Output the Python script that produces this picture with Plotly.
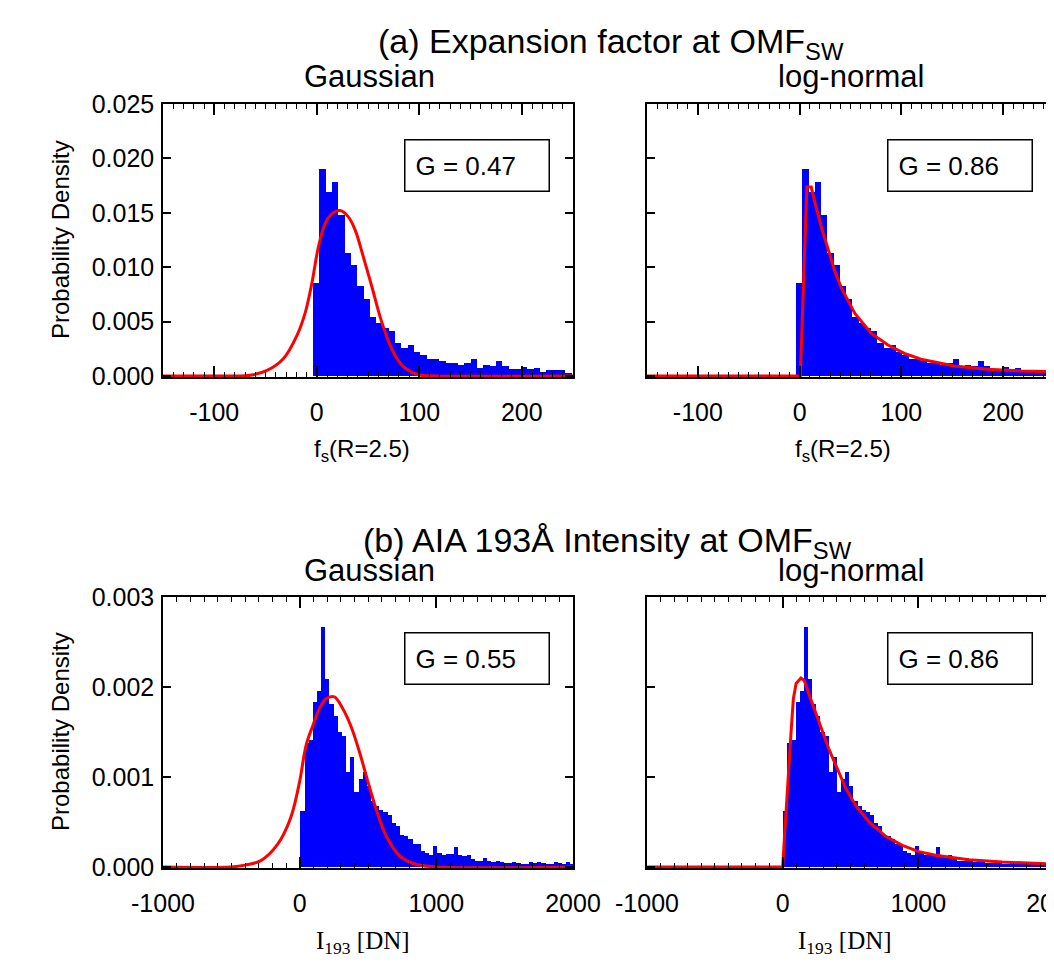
import numpy as np
import plotly.graph_objects as go

# ------------------------------------------------------------------ data
# (a) expansion factor f_s(R=2.5): histogram (probability density)
fs_bin_left = -3.5
fs_bin_width = 6.15
fs_density = [0.0085, 0.0190, 0.0169, 0.0178, 0.0148, 0.0113, 0.0102, 0.0083, 0.0071, 0.0054,
              0.0049, 0.0044, 0.0041, 0.0030, 0.0026, 0.0028, 0.0022, 0.0019, 0.0016, 0.0016,
              0.0014, 0.0012, 0.0012, 0.0010, 0.0012, 0.0016, 0.0007, 0.0010, 0.0009, 0.0014,
              0.0009, 0.0006, 0.0006, 0.0008, 0.0006, 0.0007, 0.0004, 0.0005, 0.0005, 0.0005,
              0.0003]

# fitted curves
fs_gauss_x = [-150, -90, -65, -48.5, -32.4, -19.4, -11.3, -4.8, 1.7, 8.2, 14.7, 22.9, 31, 37.5,
              45.6, 53.8, 61.9, 70, 78.2, 86.3, 99.3, 115, 250]
fs_gauss_y = [0, 0, 0.00006, 0.0005, 0.0016, 0.0037, 0.0058, 0.0085, 0.0119, 0.0140, 0.0149,
              0.0152, 0.0146, 0.0134, 0.0109, 0.0082, 0.0054, 0.0032, 0.0016, 0.0007, 0.0001, 0, 0]
fs_lognorm_x = [-150, 0.7, 7.1, 11.4, 15.3, 21.8, 28.3, 34.8, 41.3, 54.3, 70.5, 86.8, 103, 119.3,
                152, 184.4, 217, 250]
fs_lognorm_y = [0, 0, 0.01736, 0.01736, 0.01583, 0.01354, 0.01155, 0.00957, 0.00804, 0.00575,
                0.0039, 0.00284, 0.00208, 0.00153, 0.00092, 0.00061, 0.00046, 0.0004]

# (b) AIA 193 intensity: histogram (probability density)
i193_bin_left = 5.0
i193_bin_width = 30.4
i193_density = [0.00062, 0.00138, 0.00141, 0.00183, 0.00195, 0.00267, 0.00209, 0.00181, 0.00168, 0.00150,
                0.00145, 0.00106, 0.00122, 0.00083, 0.00098, 0.00106, 0.00090, 0.00073, 0.00068, 0.00063,
                0.00061, 0.00058, 0.00049, 0.00045, 0.00036, 0.00034, 0.00031, 0.00025, 0.00026, 0.00018,
                0.00016, 0.00013, 0.00023, 0.00015, 0.00013, 0.00014, 0.00014, 0.00022, 0.00013, 0.00012,
                0.00013, 0.00009, 0.00007, 0.00007, 0.00010, 0.00007, 0.000055, 0.00007, 0.000055, 0.00004,
                0.00004, 0.000055, 0.00004, 0.00003, 0.00003, 0.00005, 0.00004, 0.00006, 0.00004, 0.00003,
                0.00003, 0.00005, 0.00004, 0.00003, 0.00005, 0.00003]

i193_gauss_x = [-1000, -500, -400, -284, -162, -65, -1.5, 47, 96, 145, 193, 254, 315, 376, 437,
                497, 558, 619, 680, 741, 850, 1000, 2000]
i193_gauss_y = [0, 0, 0.00002, 0.00007, 0.00025, 0.00055, 0.00094, 0.00135, 0.00157, 0.00176,
                0.00187, 0.00189, 0.00176, 0.00156, 0.00128, 0.00096, 0.00065, 0.00039, 0.00022,
                0.00011, 0.00003, 0, 0]
i193_lognorm_x = [-1000, 0, 12.5, 37, 62, 79, 99, 135, 160, 196, 245, 294, 343, 392, 466, 539,
                  637, 760, 882, 1004, 1127, 1372, 1617, 2000]
i193_lognorm_y = [0, 0, 0.00031, 0.00094, 0.0015, 0.00187, 0.00204, 0.0021, 0.00207, 0.00191,
                  0.0017, 0.0015, 0.0013, 0.00113, 0.00087, 0.00068, 0.0005, 0.00034, 0.00024,
                  0.00017, 0.00013, 0.00008, 0.000055, 0.00003]

# goodness-of-fit values
g_fs_gauss, g_fs_lognorm = "0.47", "0.86"
g_i193_gauss, g_i193_lognorm = "0.55", "0.86"

# ticks
fs_xtickvals = [-100, 0, 100, 200]
fs_xticktext = ["-100", "0", "100", "200"]
i193_xtickvals = [-1000, 0, 1000, 2000]
i193_xticktext = ["-1000", "0", "1000", "2000"]
fs_ytickvals = [0, 0.005, 0.010, 0.015, 0.020, 0.025]
i193_ytickvals = [0, 0.001, 0.002, 0.003]

# ------------------------------------------------------------------ figure
# the page body has an 8 px margin, so the figure is sized to end at the window edge
OFF = 8
W, H = 1054 - OFF, 962 - OFF
SANS = "Liberation Sans, Arial, Helvetica, sans-serif"
SERIF = "Liberation Serif, Times New Roman, serif"
BLUE = "#0000ff"
RED = "#ff0000"


def px(x):
    return (x - OFF) / W


def py(y):
    return 1 - (y - OFF) / H


fs_centers = fs_bin_left + fs_bin_width * (np.arange(len(fs_density)) + 0.5)
i193_centers = i193_bin_left + i193_bin_width * (np.arange(len(i193_density)) + 0.5)

fig = go.Figure()

panels = [
    ("x", "y", fs_centers, fs_density, fs_bin_width, fs_gauss_x, fs_gauss_y, "spline"),
    ("x2", "y2", fs_centers, fs_density, fs_bin_width, fs_lognorm_x, fs_lognorm_y, "linear"),
    ("x3", "y3", i193_centers, i193_density, i193_bin_width, i193_gauss_x, i193_gauss_y, "spline"),
    ("x4", "y4", i193_centers, i193_density, i193_bin_width, i193_lognorm_x, i193_lognorm_y, "linear"),
]
for xa, ya, cx, dens, bw, lx, ly, shape in panels:
    fig.add_trace(go.Bar(x=cx, y=dens, width=bw, xaxis=xa, yaxis=ya,
                         marker=dict(color=BLUE, line=dict(width=0)), showlegend=False,
                         hoverinfo="skip"))
    fig.add_trace(go.Scatter(x=lx, y=ly, xaxis=xa, yaxis=ya, mode="lines",
                             line=dict(color=RED, width=3, shape=shape, smoothing=1.0),
                             showlegend=False, hoverinfo="skip", cliponaxis=True))

# invisible traces for right-side tick axes of right column
fig.add_trace(go.Scatter(x=[None], y=[None], xaxis="x2", yaxis="y5", showlegend=False))
fig.add_trace(go.Scatter(x=[None], y=[None], xaxis="x4", yaxis="y6", showlegend=False))

xdomL = [px(163), px(573)]
xdomR = [px(647), 1.0]
ydomT = [py(377), py(104)]
ydomB = [py(868), py(597)]

axis_common = dict(showline=True, linecolor="black", linewidth=1.5, showgrid=False,
                   zeroline=False, ticks="inside", tickcolor="black", automargin=False)


def xax(domain, anchor, rng, tv, tt, minor_dt):
    return dict(axis_common, domain=domain, anchor=anchor, range=rng, tickvals=tv, ticktext=tt,
                ticklen=11, tickwidth=1.5, mirror="ticks", ticklabeloverflow="allow",
                tickfont=dict(family=SANS, size=25, color="black"),
                ticklabelstandoff=12,
                minor=dict(dtick=minor_dt, tick0=0, ticklen=5, tickwidth=1, tickcolor="black",
                           ticks="inside", showgrid=False))


def yax(domain, anchor, rng, tv, labels, mirror):
    return dict(axis_common, domain=domain, anchor=anchor, range=rng, tickvals=tv,
                tickformat=".3f", ticklen=8, tickwidth=1.5, mirror=mirror,
                showticklabels=labels, ticklabelstandoff=2,
                tickfont=dict(family=SANS, size=25, color="black"))


fig.update_layout(
    template="none",
    width=W, height=H,
    margin=dict(l=0, r=0, t=0, b=0, pad=0, autoexpand=False),
    paper_bgcolor="white", plot_bgcolor="white",
    bargap=0,
    xaxis=xax(xdomL, "y", [-150, 250], fs_xtickvals, fs_xticktext, 10),
    xaxis2=xax(xdomR, "y2", [-150, 250], fs_xtickvals, fs_xticktext, 10),
    xaxis3=xax(xdomL, "y3", [-1000, 2000], i193_xtickvals, i193_xticktext, 100),
    xaxis4=xax(xdomR, "y4", [-1000, 2000], i193_xtickvals, i193_xticktext, 100),
    yaxis=yax(ydomT, "x", [-0.0001, 0.025], fs_ytickvals, True, "ticks"),
    yaxis2=yax(ydomT, "x2", [-0.0001, 0.025], fs_ytickvals, False, False),
    yaxis3=yax(ydomB, "x3", [-0.000012, 0.003], i193_ytickvals, True, "ticks"),
    yaxis4=yax(ydomB, "x4", [-0.000012, 0.003], i193_ytickvals, False, False),
    yaxis5=dict(overlaying="y2", side="right", anchor="x2", range=[-0.0001, 0.025],
                tickvals=fs_ytickvals, ticks="inside", ticklen=8, tickwidth=1.5,
                tickcolor="black", showticklabels=False, showline=False, showgrid=False,
                zeroline=False, automargin=False),
    yaxis6=dict(overlaying="y4", side="right", anchor="x4", range=[-0.000012, 0.003],
                tickvals=i193_ytickvals, ticks="inside", ticklen=8, tickwidth=1.5,
                tickcolor="black", showticklabels=False, showline=False, showgrid=False,
                zeroline=False, automargin=False),
)

ann = []


def text(x, y, s, size, family=SANS, angle=0):
    ann.append(dict(x=px(x), y=py(y), xref="paper", yref="paper", text=s, showarrow=False,
                    xanchor="center", yanchor="middle", textangle=angle,
                    font=dict(family=family, size=size, color="black")))


# titles
text(611, 44, "(a) Expansion factor at OMF<sub>SW</sub>", 34)
text(369, 76, "Gaussian", 31)
text(851, 76, "log-normal", 31)
text(607, 542, "(b) AIA 193Å Intensity at OMF<sub>SW</sub>", 34)
text(369, 570, "Gaussian", 31)
text(851, 570, "log-normal", 31)

# axis titles
text(60, 240, "Probability Density", 24, angle=-90)
text(60, 732, "Probability Density", 24, angle=-90)
text(362, 450, "f<sub>s</sub>(R=2.5)", 24)
text(843, 450, "f<sub>s</sub>(R=2.5)", 24)
text(363, 942, "I<sub>193</sub> [DN]", 25, family=SERIF)
text(845, 942, "I<sub>193</sub> [DN]", 25, family=SERIF)


def gbox(left, top, val):
    bw, pad = 1.5, 10
    ann.append(dict(x=px(left), y=py(top), xref="paper", yref="paper", text="G = " + val,
                    showarrow=False, xanchor="left", yanchor="top", align="left",
                    width=146 - 2 * (bw + pad), height=53 - 2 * (bw + pad),
                    bordercolor="black", borderwidth=bw, borderpad=pad, bgcolor="white",
                    font=dict(family=SANS, size=26, color="black")))


gbox(404, 139, g_fs_gauss)
gbox(887, 139, g_fs_lognorm)
gbox(404, 632, g_i193_gauss)
gbox(887, 632, g_i193_lognorm)

fig.update_layout(annotations=ann)

fig.write_html("out.html")
